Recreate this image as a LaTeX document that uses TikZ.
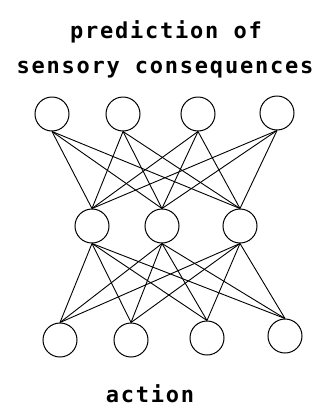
\documentclass[tikz,border=0pt]{standalone}
\usepackage{fontspec}
\newfontfamily\dotfont[LetterSpace=8]{DejaVu Sans Mono}
\begin{document}
\begin{tikzpicture}[x=1pt,y=-1pt,
  neuron/.style={draw,circle,minimum size=34pt,inner sep=0pt,line width=1pt},
  link/.style={line width=0.9pt},
  lbl/.style={font=\dotfont\fontsize{22}{24}\selectfont\bfseries,inner sep=0pt}]
\useasboundingbox (0,0) rectangle (320,408);
\node[lbl] (t1) at (166,32) {prediction of};
\node[lbl] (t2) at (165,70) {sensory consequences};
\node[lbl] (t3) at (150,394) {action};
\node[neuron] (a1) at (52,114) {};
\node[neuron] (a2) at (123,114) {};
\node[neuron] (a3) at (198,114) {};
\node[neuron] (a4) at (277,113) {};
\node[neuron] (h1) at (92,226) {};
\node[neuron] (h2) at (162,226) {};
\node[neuron] (h3) at (240,226) {};
\node[neuron] (b1) at (60,340) {};
\node[neuron] (b2) at (131,340) {};
\node[neuron] (b3) at (207,338) {};
\node[neuron] (b4) at (285,336) {};
\foreach \a in {a1,a2,a3,a4}
  \foreach \h in {h1,h2,h3}
    \draw[link] (\a.south) -- (\h.north);
\foreach \h in {h1,h2,h3}
  \foreach \b in {b1,b2,b3,b4}
    \draw[link] (\h.south) -- (\b.north);
\end{tikzpicture}
\end{document}
